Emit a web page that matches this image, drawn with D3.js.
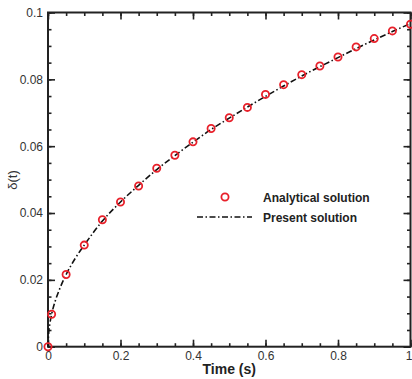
<!DOCTYPE html>
<html>
<head>
<meta charset="utf-8">
<script src="https://cdn.jsdelivr.net/npm/d3@7"></script>
<style>
  html, body { margin: 0; padding: 0; background: #fff; }
  svg { display: block; font-family: "Liberation Sans", Arial, sans-serif; }
</style>
</head>
<body>
<svg id="chart" width="412" height="379"></svg>
<script>
// ---- data ----
const analyticalT = [0, 0.01, 0.05, 0.1, 0.15, 0.2, 0.25, 0.3, 0.35, 0.4, 0.45, 0.5, 0.55, 0.6, 0.65, 0.7, 0.75, 0.8, 0.85, 0.9, 0.95, 1.0];
const analyticalDelta = [0, 0.0097, 0.0216, 0.0304, 0.0380, 0.0433, 0.0481, 0.0534, 0.0573, 0.0613, 0.0653, 0.0685, 0.0716, 0.0755, 0.0784, 0.0814, 0.0840, 0.0867, 0.0897, 0.0922, 0.0945, 0.0965];
const presentT = [0, 0.002, 0.005, 0.01, 0.02, 0.03, 0.05, 0.075, 0.1, 0.15, 0.2, 0.25, 0.3, 0.35, 0.4, 0.45, 0.5, 0.55, 0.6, 0.65, 0.7, 0.75, 0.8, 0.85, 0.9, 0.95, 1.0];
const presentDelta = [0, 0.0043, 0.0068, 0.0097, 0.0137, 0.0167, 0.0216, 0.0264, 0.0304, 0.0376, 0.0433, 0.0483, 0.0530, 0.0572, 0.0612, 0.0650, 0.0684, 0.0717, 0.0749, 0.0780, 0.0810, 0.0838, 0.0865, 0.0892, 0.0918, 0.0943, 0.0967];
const xTicks = [0, 0.2, 0.4, 0.6, 0.8, 1];
const yTicks = [0, 0.02, 0.04, 0.06, 0.08, 0.1];
const xMinorTicks = d3.range(0, 1.0001, 0.05);
const yMinorTicks = d3.range(0, 0.10001, 0.005);
const xLabel = "Time (s)";
const yLabel = "δ(t)";
const legendLabels = ["Analytical solution", "Present solution"];

// ---- layout ----
const L = 48, R = 410.5, T = 12.5, B = 346.7;
const x = d3.scaleLinear().domain([0, 1]).range([L, R]);
const y = d3.scaleLinear().domain([0, 0.1]).range([B, T]);
const svg = d3.select("#chart");
const fmt = d => String(+d.toFixed(3));

function styleAxis(g) {
  g.select(".domain").remove();
  g.selectAll(".tick line").attr("stroke", "#222").attr("stroke-width", 1.6);
  g.selectAll(".tick text").attr("fill", "#333").attr("font-size", 12)
    .attr("font-family", "\"Liberation Sans\", Arial, sans-serif");
}

// minor ticks
svg.append("g").attr("transform", `translate(0,${B})`)
  .call(d3.axisBottom(x).tickValues(xMinorTicks).tickSize(-3.5).tickFormat("")).call(styleAxis);
svg.append("g").attr("transform", `translate(0,${T})`)
  .call(d3.axisTop(x).tickValues(xMinorTicks).tickSize(-3.5).tickFormat("")).call(styleAxis);
svg.append("g").attr("transform", `translate(${L},0)`)
  .call(d3.axisLeft(y).tickValues(yMinorTicks).tickSize(-3.5).tickFormat("")).call(styleAxis);
svg.append("g").attr("transform", `translate(${R},0)`)
  .call(d3.axisRight(y).tickValues(yMinorTicks).tickSize(-3.5).tickFormat("")).call(styleAxis);

// major ticks
const xAxisG = svg.append("g").attr("transform", `translate(0,${B})`)
  .call(d3.axisBottom(x).tickValues(xTicks).tickSize(-7).tickPadding(5).tickFormat(fmt)).call(styleAxis);
// keep the last label inside the page
xAxisG.selectAll(".tick text").filter(d => d === 1).attr("text-anchor", "end").attr("dx", 1.5);
svg.append("g").attr("transform", `translate(0,${T})`)
  .call(d3.axisTop(x).tickValues(xTicks).tickSize(-7).tickFormat("")).call(styleAxis);
svg.append("g").attr("transform", `translate(${L},0)`)
  .call(d3.axisLeft(y).tickValues(yTicks).tickSize(-7).tickPadding(5).tickFormat(fmt)).call(styleAxis);
svg.append("g").attr("transform", `translate(${R},0)`)
  .call(d3.axisRight(y).tickValues(yTicks).tickSize(-7).tickFormat("")).call(styleAxis);

// frame
svg.append("rect").attr("x", L).attr("y", T).attr("width", R - L).attr("height", B - T)
  .attr("fill", "none").attr("stroke", "#222").attr("stroke-width", 2);

// present solution line
const presentData = presentT.map((t, i) => ({ t, d: presentDelta[i] }));
const line = d3.line().x(p => x(p.t)).y(p => y(p.d)).curve(d3.curveMonotoneX);
svg.append("path").datum(presentData).attr("d", line)
  .attr("fill", "none").attr("stroke", "#111").attr("stroke-width", 1.6)
  .attr("stroke-dasharray", "6,2.5,1.5,2.5");

// analytical circles
const analyticalData = analyticalT.map((t, i) => ({ t, d: analyticalDelta[i] }));
svg.append("g").selectAll("circle").data(analyticalData).join("circle")
  .attr("cx", p => x(p.t)).attr("cy", p => y(p.d)).attr("r", 3.6)
  .attr("fill", "none").attr("stroke", "#e8202a").attr("stroke-width", 1.8);

// axis labels
svg.append("text").attr("x", (L + R) / 2).attr("y", 374).attr("text-anchor", "middle")
  .attr("font-size", 14).attr("font-weight", "bold").attr("fill", "#222").text(xLabel);
svg.append("text").attr("transform", "translate(17,180) rotate(-90)").attr("text-anchor", "middle")
  .attr("font-size", 13).attr("fill", "#333").text(yLabel);

// legend
const lg = svg.append("g");
lg.append("circle").attr("cx", 225).attr("cy", 197).attr("r", 3.6)
  .attr("fill", "none").attr("stroke", "#e8202a").attr("stroke-width", 1.8);
lg.append("line").attr("x1", 197).attr("x2", 252).attr("y1", 217).attr("y2", 217)
  .attr("stroke", "#111").attr("stroke-width", 1.6).attr("stroke-dasharray", "6,2.5,1.5,2.5");
lg.selectAll("text").data(legendLabels).join("text")
  .attr("x", 263).attr("y", (d, i) => 201.5 + i * 20)
  .attr("font-size", 12).attr("font-weight", "bold").attr("fill", "#222").text(d => d);
</script>
</body>
</html>
